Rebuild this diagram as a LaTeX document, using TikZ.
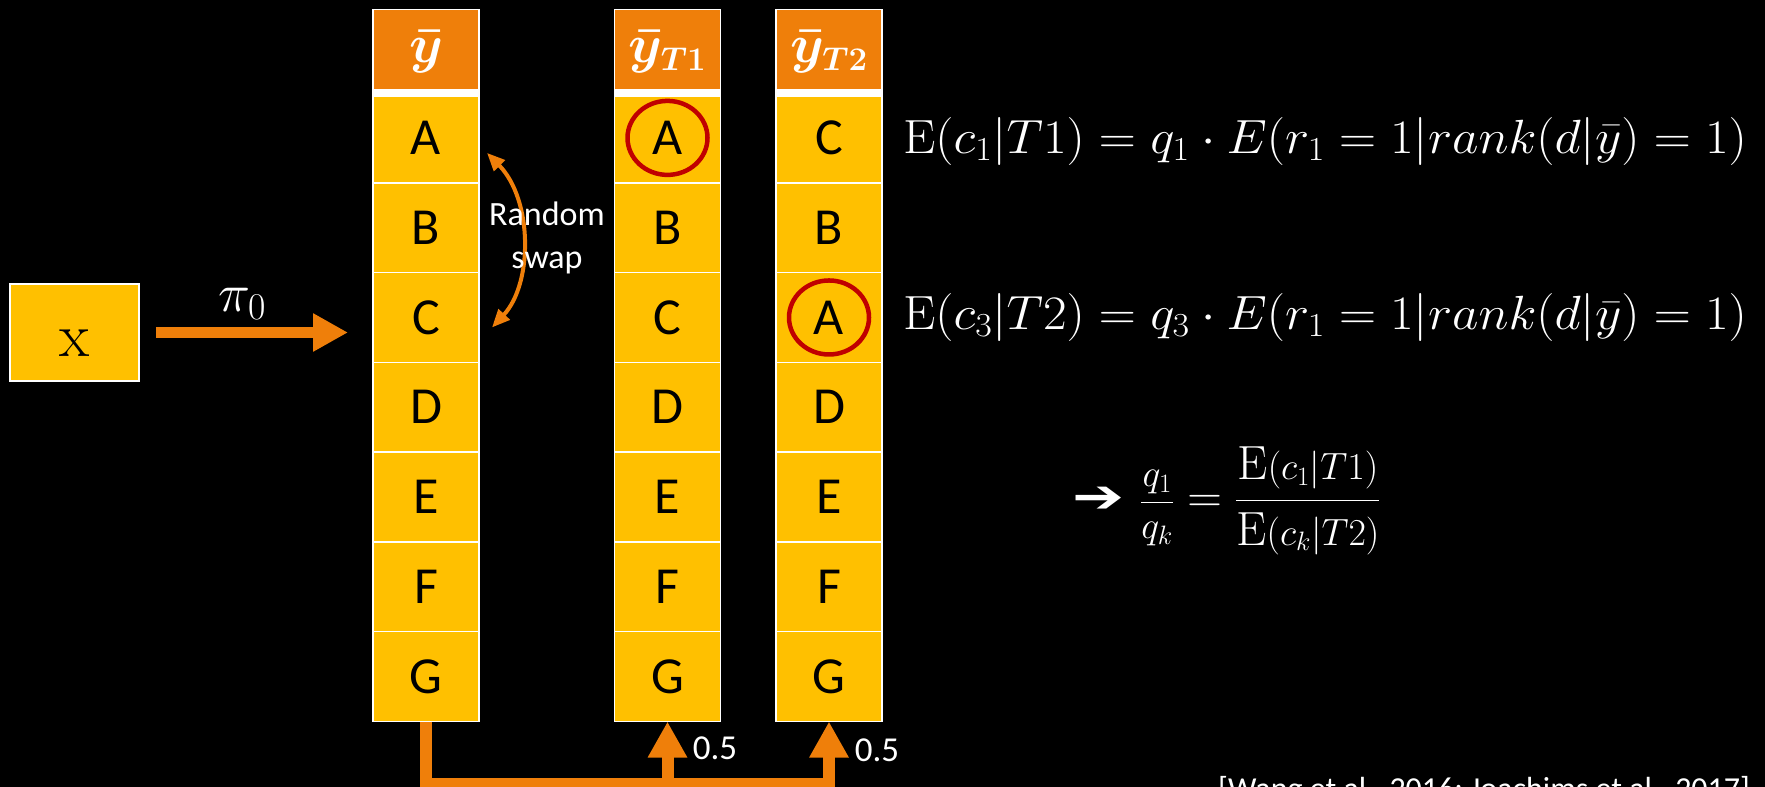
\RequirePackage{fix-cm}
\documentclass[tikz,border=0pt]{standalone}
\usepackage{fontspec}
\usepackage{amsmath}
\newfontfamily\carlito{Carlito}
\newfontfamily\dejavu{DejaVu Sans}
\usetikzlibrary{arrows.meta,shapes.geometric}
\definecolor{cellyellow}{RGB}{255,192,0}
\definecolor{hdrorange}{RGB}{239,127,10}
\definecolor{ringred}{RGB}{192,0,0}
\tikzset{
 cell/.style={rectangle, fill=cellyellow, draw=white, line width=1.5pt, minimum width=106pt, minimum height=89.8pt, inner sep=0pt, outer sep=0pt, text=black, font=\carlito\fontsize{52}{52}\selectfont},
 hdr/.style={cell, fill=hdrorange, minimum height=83.5pt, text=white, font=\fontsize{54}{54}\selectfont\boldmath},
 ring/.style={ellipse, draw=ringred, line width=4.5pt, minimum width=80pt, minimum height=74pt, inner sep=0pt},
 fat/.style={draw=hdrorange, line width=12pt},
 fattip/.style={-{Triangle[length=36pt,width=37pt]}},
 piarrow/.style={draw=hdrorange, line width=11pt, -{Triangle[length=35pt,width=36pt]}},
 swaparrow/.style={draw=hdrorange, line width=4pt, {Triangle[length=18pt,width=15pt]}-{Triangle[length=18pt,width=15pt]}},
 wtext/.style={text=white, inner sep=0pt, font=\carlito\fontsize{34}{43}\selectfont},
 mathtext/.style={text=white, inner sep=0pt, font=\fontsize{48}{48}\selectfont},
}
\newcommand{\smallpart}[1]{\text{\fontsize{38}{38}\selectfont$#1$}}
\newcommand{\hdrsub}[1]{\text{\fontsize{33}{33}\selectfont\boldmath$#1$}}
\begin{document}
\begin{tikzpicture}[x=1pt,y=-1pt]
\fill[black] (0,0) rectangle (1765,787);
\useasboundingbox (0,0) rectangle (1765,787);

% x box
\node[rectangle, fill=cellyellow, draw=white, line width=1.5pt, minimum width=129pt, minimum height=97pt, inner sep=0pt] (xbox) at (74.5,332.5) {};
\node[anchor=base, inner sep=0pt, font=\fontsize{62}{62}\selectfont] (xlabel) at ([yshift=-24pt]xbox.center) {x};

% column headers
\node[hdr] (ph) at (426,51.25) {$\bar{y}$};
\node[hdr] (sh) at (667.5,51.25) {$\bar{y}_{\hdrsub{T1}}$};
\node[hdr] (th) at (829,51.25) {$\bar{y}_{\hdrsub{T2}}$};

% columns
\foreach \l [count=\i] in {A,B,C,D,E,F,G}
  \node[cell] (p\i) at (426,{93+89.79*(\i-0.5)}) {\l};
\foreach \l [count=\i] in {A,B,C,D,E,F,G}
  \node[cell] (s\i) at (667.5,{93+89.79*(\i-0.5)}) {\l};
\foreach \l [count=\i] in {C,B,A,D,E,F,G}
  \node[cell] (t\i) at (829,{93+89.79*(\i-0.5)}) {\l};

% thick white lines under headers
\foreach \h in {ph,sh,th}
  \draw[white, line width=8pt] (\h.south west) -- (\h.south east);

% red rings
\node[ring] (ring1) at (s1) {};
\node[ring] (ring2) at (t3) {};

% pi_0 arrow
\draw[piarrow, shorten <=16pt, shorten >=25pt] (xbox.east) -- (xbox.east -| p3.west);
\node[mathtext, font=\fontsize{54}{54}\selectfont] (pilabel) at (242,304) {$\pi_0$};

% random swap
\draw[swaparrow] ([xshift=8pt,yshift=-15pt]p1.east) .. controls +(46,47) and +(41,-44) .. ([xshift=13pt,yshift=-10pt]p3.east);
\node[wtext, align=center] (swaplabel) at (547,238) {Random\\swap};

% bottom connectors
\coordinate (bot) at (426,784);
\draw[fat, fattip] (p7.south) |- (bot -| t7.south) -- (t7.south);
\draw[fat, fattip] (bot -| s7.south) -- (s7.south);
\node[wtext, font=\carlito\fontsize{35}{35}\selectfont] (half1) at (715,748) {0.5};
\node[wtext, font=\carlito\fontsize{35}{35}\selectfont] (half2) at (877,750) {0.5};

% formulas
\node[mathtext, anchor=base west] (f1) at (903,153) {\scalebox{1.07}[1]{$\mathrm{E}(c_1|T1) = q_1\cdot E(r_1 = 1|rank(d|\bar{y}) = 1)$}};
\node[mathtext, anchor=base west] (f2) at (903,329) {\scalebox{1.07}[1]{$\mathrm{E}(c_3|T2) = q_3\cdot E(r_1 = 1|rank(d|\bar{y}) = 1)$}};
\node[mathtext, anchor=west] (f3) at (1072,501) {\scalebox{1.35}[1]{\dejavu\fontsize{46}{46}\selectfont ➔}\hspace{16pt}$\smallpart{\dfrac{q_1}{q_k}}=\dfrac{\mathrm{E}\smallpart{(c_1|T1)}}{\mathrm{E}\smallpart{(c_k|T2)}}$};

% citation
\node[text=white, inner sep=0pt, anchor=north west, font=\carlito\fontsize{32}{32}\selectfont] (cite) at (1218,776) {[Wang et al., 2016; Joachims et al., 2017]};
\end{tikzpicture}
\end{document}
